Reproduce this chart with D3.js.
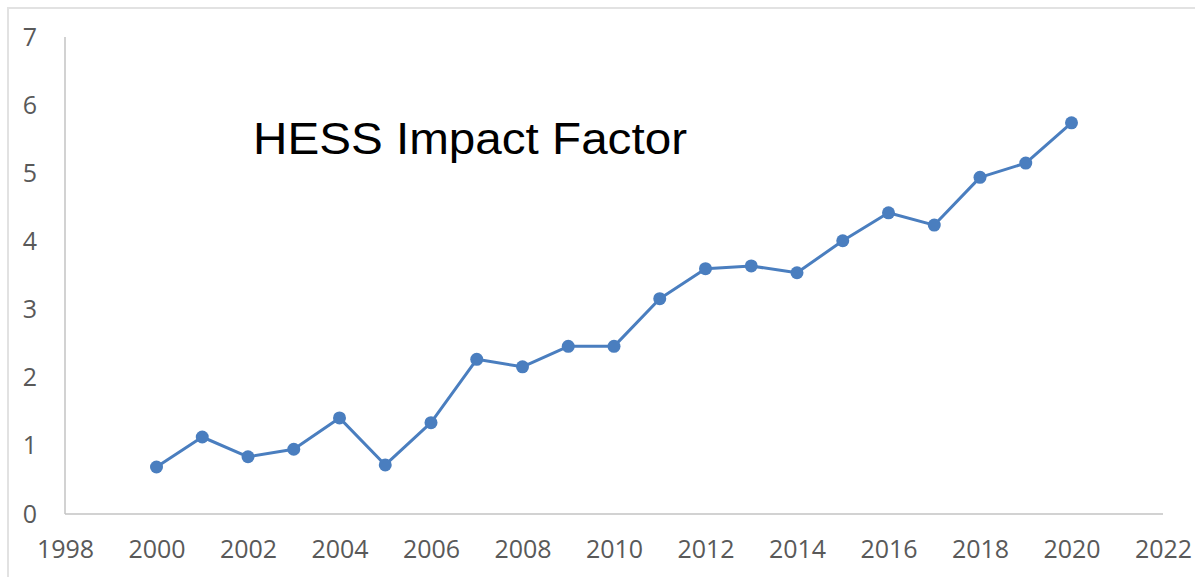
<!DOCTYPE html>
<html>
<head>
<meta charset="utf-8">
<script src="https://cdn.jsdelivr.net/npm/d3@7/dist/d3.min.js"></script>
<style>
  html, body { margin: 0; padding: 0; background: #fff; }
  svg { display: block; }
</style>
</head>
<body>
<svg id="chart" width="1195" height="577"></svg>
<script>
const years = [2000, 2001, 2002, 2003, 2004, 2005, 2006, 2007, 2008, 2009, 2010,
               2011, 2012, 2013, 2014, 2015, 2016, 2017, 2018, 2019, 2020];
const impactFactor = [0.69, 1.13, 0.84, 0.95, 1.41, 0.72, 1.34, 2.27, 2.16, 2.46, 2.46,
                      3.16, 3.60, 3.64, 3.54, 4.01, 4.42, 4.24, 4.94, 5.15, 5.74];
const xTicks = [1998, 2000, 2002, 2004, 2006, 2008, 2010, 2012, 2014, 2016, 2018, 2020, 2022];
const yTicks = [0, 1, 2, 3, 4, 5, 6, 7];
const title = "HESS Impact Factor";

const svg = d3.select("#chart");

// outer frame
svg.append("rect")
  .attr("x", 8).attr("y", 8)
  .attr("width", 1200).attr("height", 600)
  .attr("fill", "none")
  .attr("stroke", "#e2e2e2")
  .attr("stroke-width", 2);

const x = d3.scaleLinear().domain([1998, 2022]).range([65, 1163]);
const y = d3.scaleLinear().domain([0, 7]).range([514, 37]);

// y axis
const yAxis = d3.axisLeft(y).tickValues(yTicks).tickSize(0).tickPadding(28).tickFormat(d3.format("d"));
const gy = svg.append("g").attr("transform", "translate(65,0)").call(yAxis);
gy.select(".domain").remove();
gy.selectAll("text")
  .attr("fill", "#595959")
  .style("font-family", "'Open Sans', sans-serif")
  .style("font-size", "25px");

svg.append("line")
  .attr("x1", 65).attr("x2", 65)
  .attr("y1", y(7)).attr("y2", y(0))
  .attr("stroke", "#c3c3c3").attr("stroke-width", 1.5);

// x axis
const xAxis = d3.axisBottom(x).tickValues(xTicks).tickSize(0).tickPadding(26).tickFormat(d3.format("d"));
const gx = svg.append("g").attr("transform", `translate(0,${y(0)})`).call(xAxis);
gx.select(".domain").remove();
gx.selectAll("text")
  .attr("fill", "#595959")
  .style("font-family", "'Open Sans', sans-serif")
  .style("font-size", "25px");

svg.append("line")
  .attr("x1", x(1998)).attr("x2", x(2022))
  .attr("y1", y(0)).attr("y2", y(0))
  .attr("stroke", "#c3c3c3").attr("stroke-width", 1.5);

// series
const data = years.map((yr, i) => ({ yr, v: impactFactor[i] }));
const line = d3.line().x(d => x(d.yr)).y(d => y(d.v));

svg.append("path")
  .datum(data)
  .attr("d", line)
  .attr("fill", "none")
  .attr("stroke", "#4a7ebf")
  .attr("stroke-width", 3)
  .attr("stroke-linejoin", "round");

svg.selectAll("circle.pt")
  .data(data)
  .enter().append("circle")
  .attr("class", "pt")
  .attr("cx", d => x(d.yr))
  .attr("cy", d => y(d.v))
  .attr("r", 6.5)
  .attr("fill", "#4a7ebf");

// title
svg.append("text")
  .attr("x", 253).attr("y", 154)
  .attr("textLength", 434)
  .attr("lengthAdjust", "spacingAndGlyphs")
  .style("font-family", "'Liberation Sans', Arial, sans-serif")
  .style("font-size", "44px")
  .attr("fill", "#000")
  .text(title);
</script>
</body>
</html>
